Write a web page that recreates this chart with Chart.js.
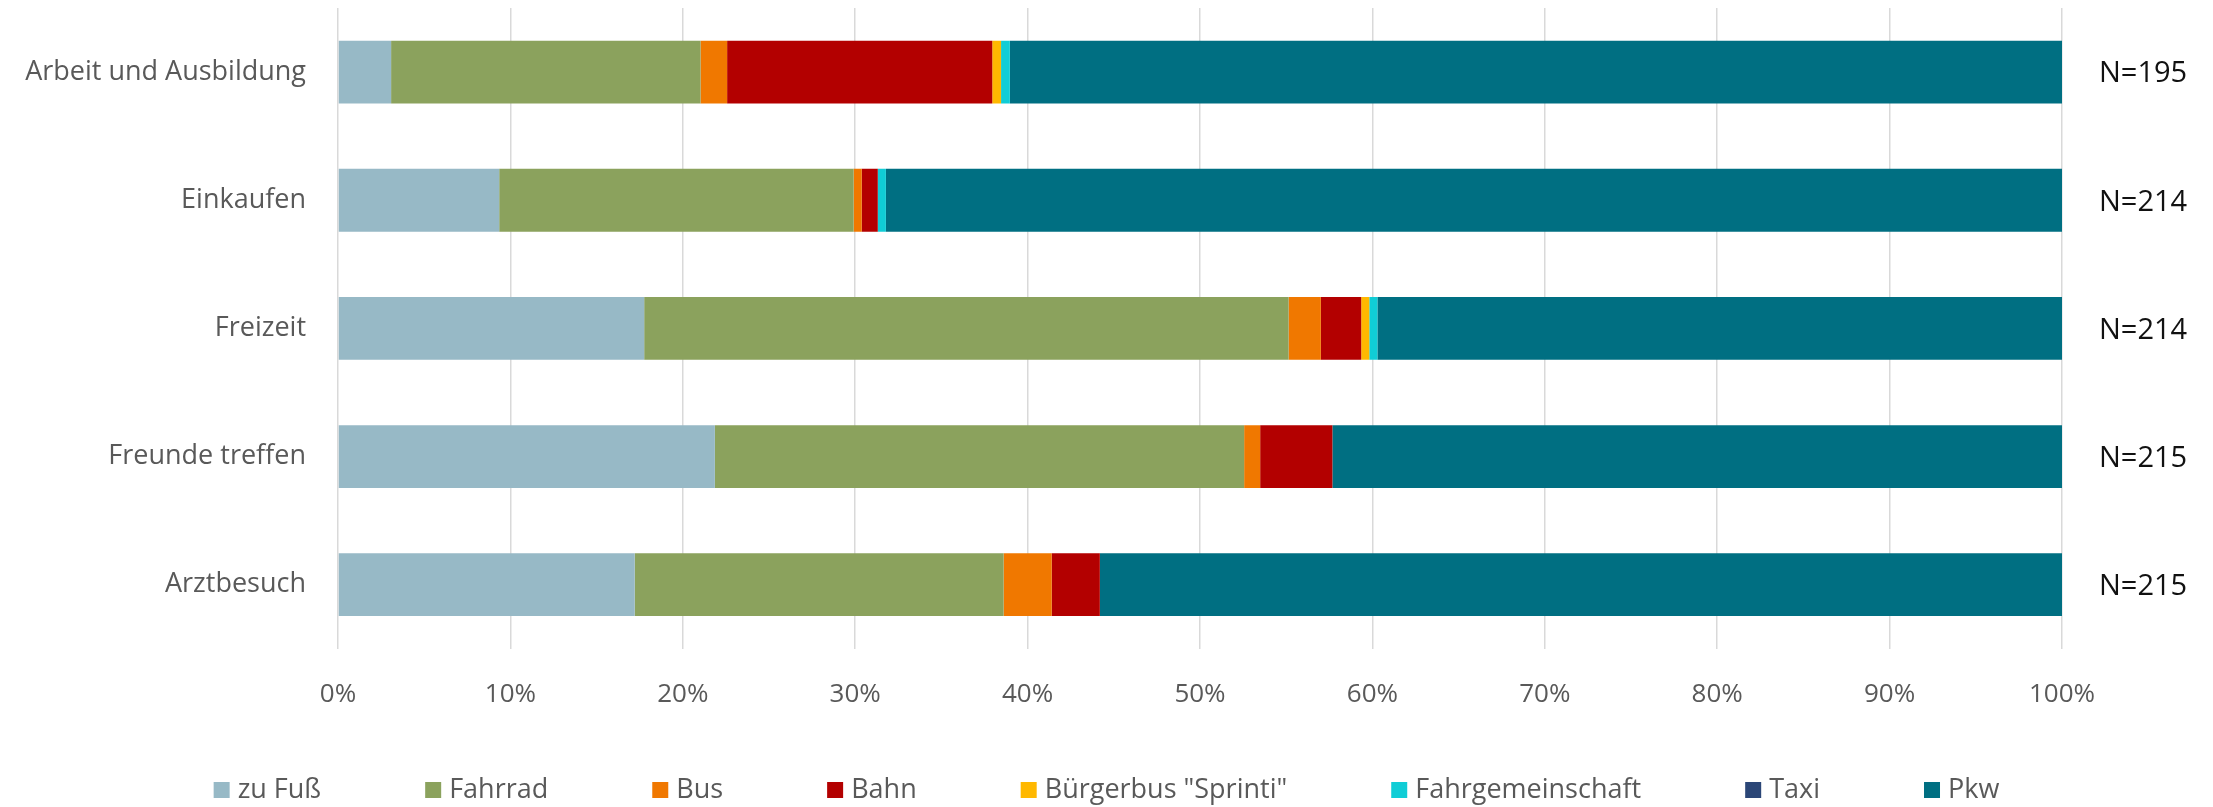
<!DOCTYPE html>
<html>
<head>
<meta charset="utf-8">
<script src="https://cdn.jsdelivr.net/npm/chart.js@4.4.0/dist/chart.umd.min.js"></script>
<style>
html, body { margin: 0; padding: 0; background: #fff; }
#wrap { width: 2213px; height: 807px; }
</style>
</head>
<body>
<div id="wrap"><canvas id="chart"></canvas></div>
<script>
// categories and sample sizes
const categories = ["Arbeit und Ausbildung", "Einkaufen", "Freizeit", "Freunde treffen", "Arztbesuch"];
const nLabels = ["N=195", "N=214", "N=214", "N=215", "N=215"];

// shares in percent
const zuFuss = [3.08, 9.35, 17.76, 21.86, 17.21];
const fahrrad = [17.95, 20.56, 37.38, 30.70, 21.40];
const bus = [1.54, 0.47, 1.87, 0.93, 2.79];
const bahn = [15.38, 0.93, 2.34, 4.19, 2.79];
const buergerbus = [0.51, 0, 0.47, 0, 0];
const fahrgemeinschaft = [0.51, 0.47, 0.47, 0, 0];
const taxi = [0, 0, 0, 0, 0];
const pkw = [61.03, 68.22, 39.72, 42.33, 55.81];

const xTicks = [0, 10, 20, 30, 40, 50, 60, 70, 80, 90, 100];

const textColor = "#595959";
const fontFamily = "'Open Sans', 'Noto Sans', sans-serif";

/* right hand N labels */
const nLabelPlugin = {
    id: "nLabels",
    afterDatasetsDraw(chart) {
        const ctx = chart.ctx;
        const yScale = chart.scales.y;
        ctx.save();
        ctx.font = "29px " + fontFamily;
        ctx.fillStyle = "#111";
        ctx.textAlign = "left";
        ctx.textBaseline = "middle";
        nLabels.forEach((txt, i) => {
            ctx.fillText(txt, chart.chartArea.right + 37, yScale.getPixelForValue(i) + 2);
        });
        ctx.restore();
    }
};

/* legend row at the bottom, wide gaps like the original */
const legendPlugin = {
    id: "bottomLegend",
    afterDraw(chart) {
        const ctx = chart.ctx;
        const box = 16, gap = 8, itemGap = 104;
        const y = 790;
        ctx.save();
        ctx.font = "27px " + fontFamily;
        ctx.textBaseline = "middle";
        const items = chart.data.datasets.map(ds => ({
            text: ds.label,
            color: ds.backgroundColor,
            w: box + gap + ctx.measureText(ds.label).width
        }));
        let total = items.reduce((s, it) => s + it.w, 0) + itemGap * (items.length - 1);
        let x = (chart.width - total) / 2;
        items.forEach(it => {
            ctx.fillStyle = it.color;
            ctx.fillRect(x, y - box / 2, box, box);
            ctx.fillStyle = textColor;
            ctx.fillText(it.text, x + box + gap, y);
            x += it.w + itemGap;
        });
        ctx.restore();
    }
};

const ctx = document.getElementById("chart").getContext("2d");

new Chart(ctx, {
    type: "bar",
    data: {
        labels: categories,
        datasets: [
            { label: "zu Fuß", data: zuFuss, backgroundColor: "#97b9c6" },
            { label: "Fahrrad", data: fahrrad, backgroundColor: "#8ba25d" },
            { label: "Bus", data: bus, backgroundColor: "#f07800" },
            { label: "Bahn", data: bahn, backgroundColor: "#b30000" },
            { label: "Bürgerbus \"Sprinti\"", data: buergerbus, backgroundColor: "#ffb800" },
            { label: "Fahrgemeinschaft", data: fahrgemeinschaft, backgroundColor: "#10cdd6" },
            { label: "Taxi", data: taxi, backgroundColor: "#2b4677" },
            { label: "Pkw", data: pkw, backgroundColor: "#006f82" }
        ]
    },
    options: {
        indexAxis: "y",
        responsive: true,
        maintainAspectRatio: false,
        animation: false,
        devicePixelRatio: 1,
        categoryPercentage: 0.49,
        barPercentage: 1,
        layout: {
            padding: { top: 8, right: 151, bottom: 67, left: 0 }
        },
        plugins: {
            legend: { display: false },
            tooltip: { enabled: false }
        },
        scales: {
            x: {
                stacked: true,
                min: 0,
                max: 100,
                afterBuildTicks: scale => {
                    scale.ticks = xTicks.map(v => ({ value: v }));
                },
                grid: {
                    color: "#d9d9d9",
                    lineWidth: 1.5,
                    drawTicks: false
                },
                border: { display: false },
                ticks: {
                    padding: 30,
                    color: textColor,
                    font: { family: fontFamily, size: 26 },
                    callback: value => `${value}%`
                }
            },
            y: {
                stacked: true,
                grid: { display: false },
                border: { display: false },
                afterFit: scale => {
                    scale.width = 338;
                    scale.paddingTop = 0;
                    scale.paddingBottom = 0;
                },
                ticks: {
                    padding: 24,
                    color: textColor,
                    font: { family: fontFamily, size: 27 }
                }
            }
        }
    },
    plugins: [nLabelPlugin, legendPlugin]
});
</script>
</body>
</html>
